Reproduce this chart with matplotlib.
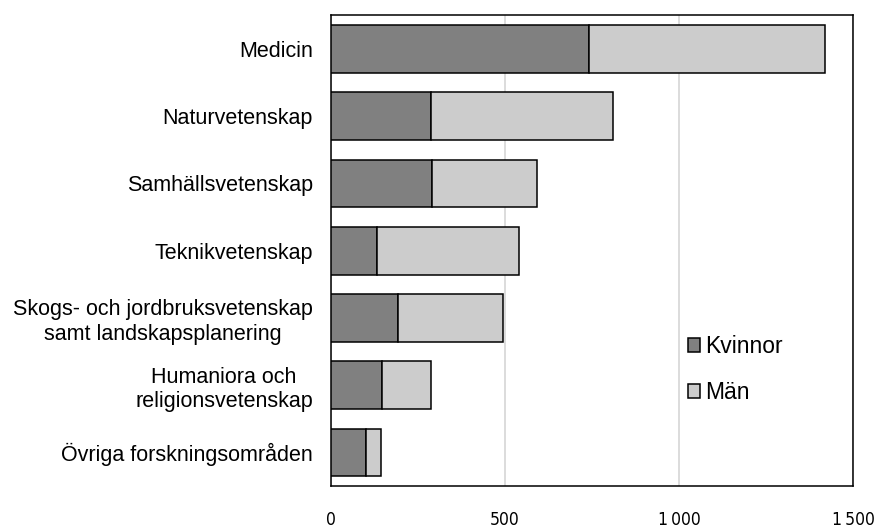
import matplotlib
matplotlib.use("Agg")
from matplotlib import pyplot as plt
from matplotlib.patches import Patch
from matplotlib.ticker import FuncFormatter

c_kv = "#808080"
c_man = "#cccccc"
c_grid = "#d9d9d9"

categories = [
    "Medicin",
    "Naturvetenskap",
    "Samhällsvetenskap",
    "Teknikvetenskap",
    "Skogs- och jordbruksvetenskap\nsamt landskapsplanering",
    "Humaniora och\nreligionsvetenskap",
    "Övriga forskningsområden",
]
kvinnor = [742, 287, 291, 131, 193, 148, 101]
man = [678, 522, 300, 408, 300, 138, 42]
xticks = [0, 500, 1000, 1500]

plt.rcParams["font.family"] = ["Liberation Sans", "DejaVu Sans"]

fig, ax = plt.subplots(figsize=(8.74, 5.30), dpi=100)
fig.subplots_adjust(left=0.3787, right=0.976, bottom=0.083, top=0.971)

ypos = list(range(len(categories)))
ax.barh(ypos, kvinnor, height=0.71, color=c_kv, edgecolor="black", linewidth=1.1, zorder=3)
ax.barh(ypos, man, left=kvinnor, height=0.71, color=c_man, edgecolor="black", linewidth=1.1, zorder=3)

ax.set_ylim(len(categories) - 0.5, -0.5)
ax.set_yticks(ypos)
ax.set_yticklabels(categories, fontsize=15.5, multialignment="center")
ax.set_xlim(0, 1500)
ax.set_xticks(xticks)
ax.xaxis.set_major_formatter(FuncFormatter(lambda v, p: f"{int(v):,}".replace(",", "\u2009")))
for lab in ax.get_xticklabels():
    lab.set_family("DejaVu Sans")
    lab.set_stretch("condensed")
    lab.set_fontsize(12.5)
ax.tick_params(axis="x", length=0, pad=18)
ax.tick_params(axis="y", length=0, pad=13)
ax.grid(axis="x", color=c_grid, linewidth=1.3, zorder=0)
ax.set_axisbelow(True)
for s in ax.spines.values():
    s.set_linewidth(1.1)
    s.set_color("black")

handles = [Patch(facecolor=c_kv, edgecolor="black", linewidth=1.1),
           Patch(facecolor=c_man, edgecolor="black", linewidth=1.1)]
ax.legend(handles, ["Kvinnor", "Män"], loc="upper left", bbox_to_anchor=(0.787, 0.368),
          bbox_transform=fig.transFigure, frameon=False, fontsize=16.5,
          handlelength=0.55, handleheight=0.55, handletextpad=0.2, labelspacing=1.0,
          borderpad=0, borderaxespad=0)

plt.savefig("out.png")
